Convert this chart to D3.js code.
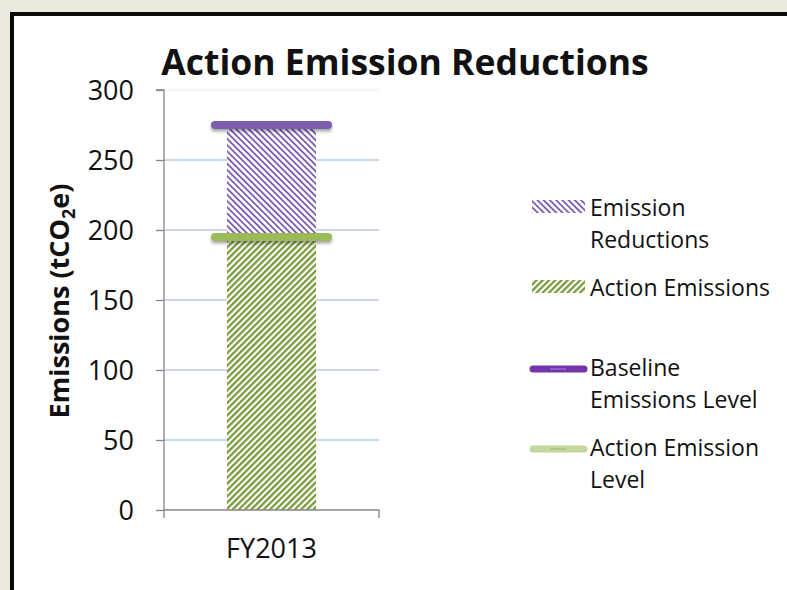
<!DOCTYPE html>
<html>
<head>
<meta charset="utf-8">
<script src="https://cdn.jsdelivr.net/npm/d3@7"></script>
<style>
  html, body { margin: 0; padding: 0; background: #ECE9DF; }
  svg { display: block; }
  text { font-family: "Open Sans", "Noto Sans", sans-serif; fill: #111; }
</style>
</head>
<body>
<svg id="chart" width="787" height="590"></svg>
<script>
// Chart data
const categories = ["FY2013"];
const actionEmissions = [195];
const emissionReductions = [80];
const baselineLevel = [275];
const actionLevel = [195];
const yTicks = [0, 50, 100, 150, 200, 250, 300];

const legendItems = [
  { kind: "hatch", pattern: "hatch-purple", lines: ["Emission", "Reductions"] },
  { kind: "hatch", pattern: "hatch-green", lines: ["Action Emissions"] },
  { kind: "line", color: "#7334ad", inner: "#a88bd0", lines: ["Baseline", "Emissions Level"] },
  { kind: "line", color: "#c3d69b", inner: "#9cb36a", lines: ["Action Emission", "Level"] }
];

const svg = d3.select("#chart");
const W = 787, H = 590;

// Framed white panel
svg.append("rect").attr("width", W).attr("height", H).attr("fill", "#ECE9DF");
svg.append("rect")
  .attr("x", 12).attr("y", 14).attr("width", 820).attr("height", 620)
  .attr("fill", "#fff").attr("stroke", "#0a0a0a").attr("stroke-width", 4);

const defs = svg.append("defs");
function hatch(id, color, angle, width) {
  const p = defs.append("pattern")
    .attr("id", id).attr("patternUnits", "userSpaceOnUse")
    .attr("width", 4.4).attr("height", 10)
    .attr("patternTransform", `rotate(${angle})`);
  p.append("rect").attr("width", 4.4).attr("height", 10).attr("fill", "#fff");
  p.append("rect").attr("x", 0).attr("width", width).attr("height", 10).attr("fill", color);
}
hatch("hatch-purple", "#7a5cb0", -45, 1.8);
hatch("hatch-green", "#7a9a3e", 45, 2.3);

// Soft shadow below the level lines
const shadow = defs.append("filter").attr("id", "shadow")
  .attr("filterUnits", "userSpaceOnUse")
  .attr("x", 0).attr("y", 0).attr("width", W).attr("height", H);
shadow.append("feDropShadow").attr("dx", 0).attr("dy", 2.5).attr("stdDeviation", 1.8)
  .attr("flood-color", "#000").attr("flood-opacity", 0.35);

// Scales
const plot = { left: 164, right: 379, top: 90, bottom: 510 };
const x = d3.scaleBand().domain(categories).range([plot.left, plot.right])
  .paddingInner(0.414).paddingOuter(0.414);
const y = d3.scaleLinear().domain([0, 300]).range([plot.bottom, plot.top]);

// Gridlines
svg.append("g").selectAll("line").data(yTicks.filter(t => t > 0)).join("line")
  .attr("x1", plot.left).attr("x2", plot.right)
  .attr("y1", d => y(d)).attr("y2", d => y(d))
  .attr("stroke", d => d === 300 ? "#eef2f8" : "#b8cce4").attr("stroke-width", 1.3);

// Stacked bar
const rows = categories.map((c, i) => ({ cat: c, action: actionEmissions[i], reduction: emissionReductions[i] }));
const stack = d3.stack().keys(["action", "reduction"])(rows);
const fills = { action: "url(#hatch-green)", reduction: "url(#hatch-purple)" };
svg.append("g").selectAll("g").data(stack).join("g")
  .attr("fill", d => fills[d.key])
  .selectAll("rect").data(d => d).join("rect")
  .attr("x", d => x(d.data.cat))
  .attr("width", x.bandwidth())
  .attr("y", d => y(d[1]))
  .attr("height", d => y(d[0]) - y(d[1]));

// Axes
const yAxis = d3.axisLeft(y).tickValues(yTicks).tickSize(8).tickPadding(22);
const gy = svg.append("g").attr("transform", `translate(${plot.left},0)`).call(yAxis);
gy.select(".domain").attr("stroke", "#868686").attr("stroke-width", 1.3).attr("d", `M-8,${plot.top}H0V${plot.bottom}`);
gy.selectAll(".tick line").attr("stroke", "#868686").attr("stroke-width", 1.3);
gy.selectAll(".tick text").attr("font-size", 27).attr("font-family", "Open Sans").attr("fill", "#111").attr("dy", "0.36em");

const xAxis = d3.axisBottom(x).tickSize(0).tickPadding(29);
const gx = svg.append("g").attr("transform", `translate(0,${plot.bottom})`).call(xAxis);
gx.select(".domain").attr("stroke", "#868686").attr("stroke-width", 1.3)
  .attr("d", `M${plot.left},8V0H${plot.right}V8`);
gx.selectAll(".tick text").attr("font-size", 27).attr("font-family", "Open Sans").attr("fill", "#111").attr("dy", "0.71em");

// Level lines
const levels = [
  { vals: actionLevel, color: "#9bbb59" },
  { vals: baselineLevel, color: "#7e5fae" }
];
levels.forEach(l => {
  svg.append("g").selectAll("line").data(categories).join("line")
    .attr("x1", c => x(c) - 12).attr("x2", c => x(c) + x.bandwidth() + 12)
    .attr("y1", (c, i) => y(l.vals[i])).attr("y2", (c, i) => y(l.vals[i]))
    .attr("stroke", l.color).attr("stroke-width", 8).attr("stroke-linecap", "round")
    .attr("filter", "url(#shadow)");
});

// Title
svg.append("text").attr("x", 405).attr("y", 75).attr("text-anchor", "middle")
  .attr("font-size", 35.5).attr("font-weight", "bold").text("Action Emission Reductions");

// Y axis title
const yt = svg.append("text").attr("transform", "translate(69,301) rotate(-90)")
  .attr("text-anchor", "middle").attr("font-size", 27).attr("font-weight", "bold");
yt.append("tspan").text("Emissions (tCO");
yt.append("tspan").attr("font-size", 18).attr("dy", 6).text("2");
yt.append("tspan").attr("dy", -6).text("e)");

// Legend
const legendRows = [207, 287, 367, 447];
const lg = svg.append("g");
legendItems.forEach((it, i) => {
  const cy = legendRows[i];
  const g = lg.append("g");
  if (it.kind === "hatch") {
    g.append("rect").attr("x", 532).attr("y", cy - 7).attr("width", 53).attr("height", 13)
      .attr("fill", `url(#${it.pattern})`);
  } else {
    g.append("line").attr("x1", 533).attr("x2", 584).attr("y1", cy + 2).attr("y2", cy + 2)
      .attr("stroke", it.color).attr("stroke-width", 7).attr("stroke-linecap", "round");
    g.append("line").attr("x1", 550).attr("x2", 566).attr("y1", cy + 2).attr("y2", cy + 2)
      .attr("stroke", it.inner).attr("stroke-width", 1);
  }
  it.lines.forEach((t, j) => {
    g.append("text").attr("x", 590).attr("y", cy + 8.5 + j * 32)
      .attr("font-size", 23).text(t);
  });
});
</script>
</body>
</html>
